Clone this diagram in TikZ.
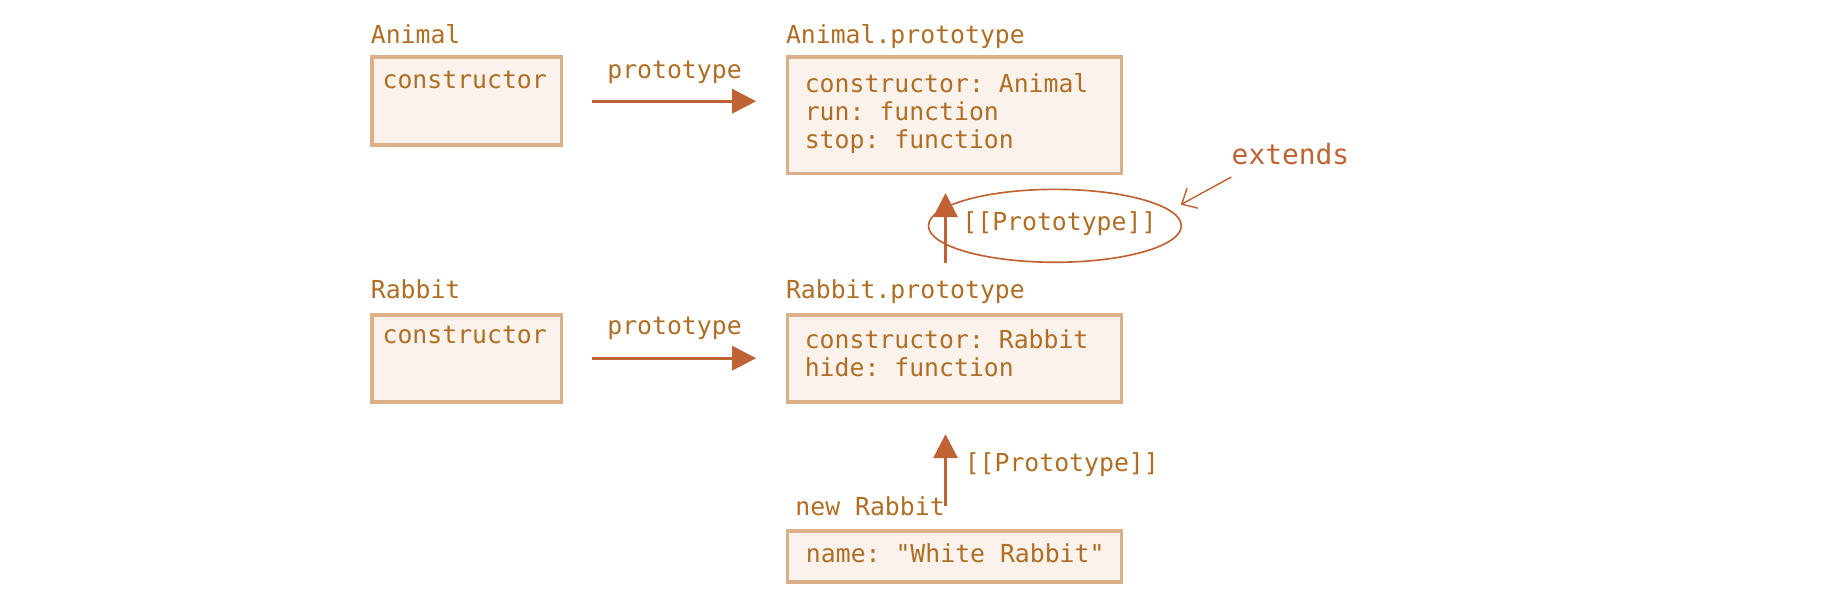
\documentclass[tikz,border=0pt]{standalone}
\usepackage{fontspec}
\setmonofont{DejaVu Sans Mono}
\usetikzlibrary{arrows.meta,shapes.geometric}

\definecolor{boxfill}{HTML}{FBF2EC}
\definecolor{boxline}{HTML}{DBAF88}
\definecolor{codetext}{HTML}{AF6E24}
\definecolor{linkcol}{HTML}{C06334}

\begin{document}
\begin{tikzpicture}[
        x=0.02cm, y=-0.02cm,
        font=\ttfamily\fontsize{12}{13.5}\selectfont,
        objbox/.style={draw=boxline, fill=boxfill, line width=1.8pt, anchor=north west, inner sep=0pt},
        content/.style={anchor=north west, inner sep=0pt, align=left, text=codetext},
        caption/.style={anchor=base west, inner sep=0pt, text=codetext},
        link/.style={-{Triangle[length=11.6pt, width=11.6pt]}, linkcol, line width=1.6pt},
        note/.style={-{Straight Barb[length=6pt, width=11pt]}, linkcol, line width=0.7pt}
    ]
        \useasboundingbox (0,0) rectangle (1568,505);

        % Cajas
        \node[objbox, minimum width=3.22cm, minimum height=1.5cm] (animal) at (315,47) {};
        \node[objbox, minimum width=5.68cm, minimum height=1.98cm] (aproto) at (668,47) {};
        \node[objbox, minimum width=3.22cm, minimum height=1.48cm] (rabbit) at (315,266) {};
        \node[objbox, minimum width=5.68cm, minimum height=1.48cm] (rproto) at (668,266) {};
        \node[objbox, minimum width=5.68cm, minimum height=0.86cm] (white) at (668,450) {};

        % Titulos
        \node[caption] (animallbl) at (315,37) {Animal};
        \node[caption] (aprotolbl) at (668,37) {Animal.prototype};
        \node[caption] (rabbitlbl) at (315,254) {Rabbit};
        \node[caption] (rprotolbl) at (668,254) {Rabbit.prototype};
        \node[caption] (whitelbl) at (676,438) {new Rabbit};

        % Contenido
        \node[content] (animaltxt) at (325,60) {constructor};
        \node[content] (aprototxt) at (684,62) {constructor: Animal\\run: function\\stop: function};
        \node[content] (rabbittxt) at (325,277) {constructor};
        \node[content] (rprototxt) at (684,280) {constructor: Rabbit\\hide: function};
        \node[content] (whitetxt) at (685,462) {name: "White Rabbit"};

        % Flechas prototype
        \draw[link, shorten <=0.48cm, shorten >=0.5cm] (animal.east) -- (animal.east -| aproto.west)
            node[midway, anchor=base, yshift=0.38cm, text=codetext] (plbl1) {prototype};
        \draw[link, shorten <=0.48cm, shorten >=0.5cm] (rabbit.east) -- (rabbit.east -| rproto.west)
            node[midway, anchor=base, yshift=0.4cm, text=codetext] (plbl2) {prototype};

        % Flechas [[Prototype]]
        \coordinate (up1) at (804,224);
        \coordinate (up2) at (804,430);
        \draw[link, shorten >=0.3cm] (up1) -- (up1 |- aproto.south);
        \draw[link, shorten >=0.52cm] (up2) -- (up2 |- rproto.south);
        \node[anchor=west, inner sep=0pt, text=codetext] (pp1) at (818,190) {[[Prototype]]};
        \node[anchor=west, inner sep=0pt, text=codetext] (pp2) at (820,395) {[[Prototype]]};

        % extends
        \node[ellipse, draw=linkcol, line width=0.8pt, minimum width=4.3cm, minimum height=1.24cm] (ring) at (897,192) {};
        \node[anchor=west, inner sep=0pt, text=linkcol, font=\ttfamily\fontsize{13.5}{15}\selectfont] (extends) at (1047,131) {extends};
        \coordinate (extip) at (1004,174);
        \draw[note] ([yshift=-0.2cm]extends.south west) -- (extip);

    \end{tikzpicture}
\end{document}
